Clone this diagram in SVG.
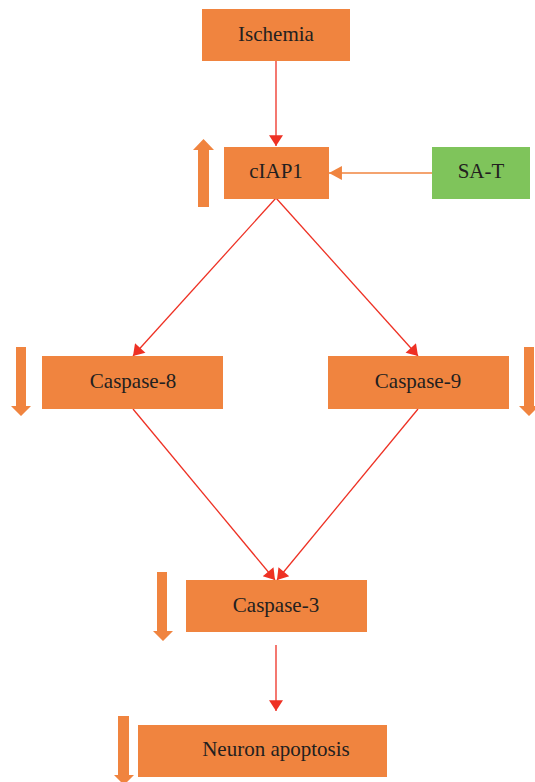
<svg xmlns="http://www.w3.org/2000/svg" width="535" height="782" viewBox="0 0 535 782">
<style>
.box{fill:#F0843F}
.green{fill:#7FC45B}
.lbl{font-family:"Liberation Serif","Times New Roman",serif;font-size:21px;fill:#231F20;text-anchor:middle}
.red{stroke:#EE3124;stroke-width:1.3;fill:none}
.org{stroke:#F0843F;stroke-width:1.5;fill:none}
.fat{fill:#F0843F}
</style>
<defs>
<marker id="ar" markerUnits="userSpaceOnUse" markerWidth="14" markerHeight="14" viewBox="0 0 10 13" refX="10" refY="6.5" orient="auto">
<path d="M0,0 L10,6.5 L0,13 Z" fill="#EE3124"/>
</marker>
<marker id="ao" markerUnits="userSpaceOnUse" markerWidth="14" markerHeight="14" viewBox="0 0 12 13" refX="12" refY="6.5" orient="auto">
<path d="M0,0 L12,6.5 L0,13 Z" fill="#F0843F"/>
</marker>
</defs>
<g id="connectors">
<line class="red" x1="276" y1="61" x2="276" y2="146" marker-end="url(#ar)"/>
<line class="org" x1="432" y1="173" x2="329" y2="173" marker-end="url(#ao)"/>
<line class="red" x1="276" y1="198" x2="133" y2="356" marker-end="url(#ar)"/>
<line class="red" x1="276" y1="198" x2="418" y2="356" marker-end="url(#ar)"/>
<line class="red" x1="133" y1="409" x2="275" y2="580" marker-end="url(#ar)"/>
<line class="red" x1="418" y1="409" x2="277" y2="580" marker-end="url(#ar)"/>
<line class="red" x1="276" y1="645" x2="276" y2="711" marker-end="url(#ar)"/>
</g>
<g id="trend-arrows">
<path class="fat" d="M198,207 L198,150 L193,150 L203.5,139 L214,150 L209,150 L209,207 Z"/>
<path class="fat" d="M16,347 L26,347 L26,406 L31,406 L21,416 L11,406 L16,406 Z"/>
<path class="fat" d="M524,347 L534,347 L534,406 L539,406 L529,416 L519,406 L524,406 Z"/>
<path class="fat" d="M157,572 L167,572 L167,631 L173,631 L163,641 L153,631 L157,631 Z"/>
<path class="fat" d="M118,716 L129,716 L129,775 L134,775 L124,785 L114,775 L118,775 Z"/>
</g>
<g id="ischemia"><rect class="box" x="202" y="9" width="148" height="52"/><text class="lbl" x="276" y="41">Ischemia</text></g>
<g id="ciap1"><rect class="box" x="224" y="147" width="105" height="52"/><text class="lbl" x="276" y="178">cIAP1</text></g>
<g id="sat"><rect class="green" x="432" y="147" width="98" height="52"/><text class="lbl" x="481" y="178">SA-T</text></g>
<g id="caspase8"><rect class="box" x="42" y="356" width="181" height="53"/><text class="lbl" x="133" y="388">Caspase-8</text></g>
<g id="caspase9"><rect class="box" x="328" y="356" width="181" height="53"/><text class="lbl" x="418" y="388">Caspase-9</text></g>
<g id="caspase3"><rect class="box" x="186" y="580" width="181" height="52"/><text class="lbl" x="276" y="612">Caspase-3</text></g>
<g id="apoptosis"><rect class="box" x="138" y="725" width="249" height="52"/><text class="lbl" x="276" y="756">Neuron apoptosis</text></g>
</svg>
